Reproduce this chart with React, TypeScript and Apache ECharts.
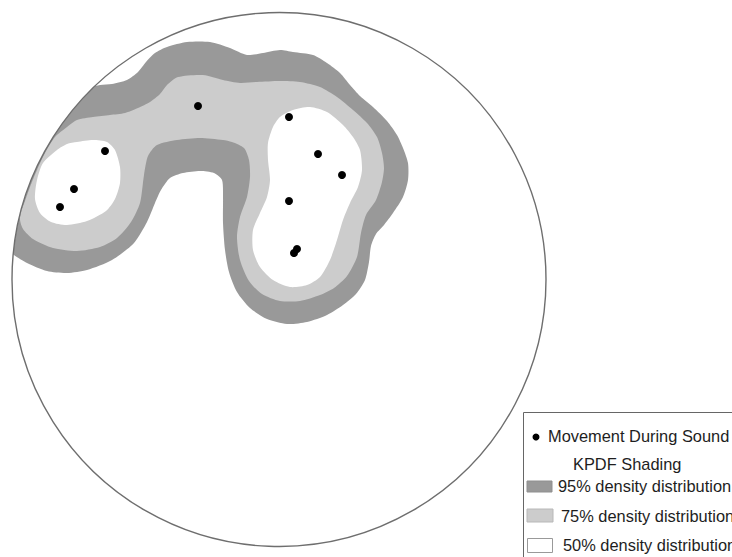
import React, { useEffect, useRef } from "react";
import * as echarts from "echarts";

// Plot units: the stereonet frame, x to the right, y downward
const netCenter = [279, 279.5];
const netRadius = 267;

const movementPoints = [
  [198, 106], [289, 117], [105, 151], [318, 154], [342, 175],
  [74, 189], [60, 207], [289, 201], [294, 253], [297, 249],
];

// 95% density contour (extends past the net at the west; masked by the primitive circle)
const contour95 = [
  [0, 100], [90, 87], [100, 85], [112, 84], [127, 80], [138, 72], [146, 62], [155, 53],
  [167, 47], [187, 42], [210, 42], [230, 48], [247, 55], [263, 53], [280, 50], [293, 52],
  [313, 55], [327, 63], [340, 73], [350, 85], [360, 96], [373, 107], [387, 121], [397, 135],
  [403, 148], [408, 163], [408, 180], [403, 197], [393, 213], [384, 225], [376, 234],
  [371, 246], [369, 262], [365, 280], [356, 294], [343, 305], [327, 315], [307, 322],
  [287, 324], [267, 319], [250, 308], [237, 292], [229, 272], [225, 250], [223, 223],
  [223, 197], [222, 180], [214, 173], [200, 171], [183, 173], [170, 178], [161, 190],
  [155, 203], [147, 222], [134, 243], [112, 260], [87, 270], [67, 273], [47, 271],
  [27, 263], [14, 255], [4, 246], [0, 236],
];

// 75% density contour
const contour75 = [
  [55, 137], [67, 127], [77, 120], [93, 117], [110, 115], [125, 113], [138, 108], [150, 102],
  [160, 94], [167, 85], [178, 77], [203, 75], [223, 80], [240, 83], [257, 82], [280, 81],
  [300, 82], [320, 87], [337, 97], [353, 110], [367, 123], [377, 137], [382, 153], [384, 168],
  [382, 182], [376, 200], [366, 215], [361, 233], [357, 257], [347, 276], [334, 288],
  [320, 295], [300, 301], [280, 301], [262, 294], [249, 281], [240, 260], [237, 237],
  [240, 217], [247, 197], [250, 177], [249, 160], [244, 148], [232, 142], [223, 140],
  [200, 138], [177, 140], [157, 145], [148, 156], [144, 175], [140, 203], [131, 222],
  [117, 238], [100, 247], [77, 251], [53, 248], [33, 239], [23, 229], [20, 220], [21, 212],
  [25, 201], [30, 187], [37, 170], [45, 153],
];

// 50% density contours
const contour50West = [
  [67, 144], [77, 142], [93, 140], [107, 142], [115, 150], [120, 167], [120, 183],
  [115, 199], [106, 211], [87, 221], [67, 225], [51, 222], [40, 213], [35, 199],
  [37, 180], [43, 163], [57, 150],
];
const contour50East = [
  [280, 117], [293, 110], [310, 107], [327, 112], [343, 125], [353, 137], [360, 150],
  [362, 170], [358, 187], [350, 203], [343, 220], [337, 240], [330, 260], [320, 277],
  [307, 285], [290, 287], [273, 280], [260, 267], [253, 250], [253, 230], [260, 213],
  [267, 197], [270, 180], [268, 160], [268, 143], [273, 127],
];

const legendLabels = [
  "Movement During Sound",
  "KPDF Shading",
  "95% density distribution",
  "75% density distribution",
  "50% density distribution",
];

const DARK = "#999999";
const LIGHT = "#cccccc";
const TEXT = "#1e1e1e";
const FONT = '16.4px "Liberation Sans", Arial, sans-serif';

function polygonSeries(name: string, pts: number[][], fill: string, z: number) {
  return {
    type: "custom",
    name,
    z,
    silent: true,
    clip: false,
    coordinateSystem: "cartesian2d",
    data: [netCenter],
    renderItem: (_params: any, api: any) => ({
      type: "polygon",
      shape: { points: pts.map((p) => api.coord(p)), smooth: 0.25 },
      style: { fill, stroke: null },
    }),
  };
}

export default function App() {
  const ref = useRef<HTMLDivElement>(null);

  useEffect(() => {
    if (!ref.current) return;
    const chart = echarts.init(ref.current, null, { renderer: "svg" });

    const legendText = (i: number, x: number, y: number) => ({
      type: "text",
      z: 100,
      silent: true,
      style: { text: legendLabels[i], x, y, font: FONT, fill: TEXT, verticalAlign: "middle", align: "left" },
    });

    const option: any = {
      animation: false,
      backgroundColor: "#ffffff",
      grid: { left: 0, right: 0, top: 0, bottom: 0 },
      xAxis: { type: "value", min: 0, max: 732, show: false },
      yAxis: { type: "value", min: 0, max: 557, inverse: true, show: false },
      series: [
        polygonSeries("95%", contour95, DARK, 1),
        polygonSeries("75%", contour75, LIGHT, 2),
        polygonSeries("50% W", contour50West, "#ffffff", 3),
        polygonSeries("50% E", contour50East, "#ffffff", 3),
        {
          type: "custom",
          name: "net",
          z: 4,
          silent: true,
          clip: false,
          coordinateSystem: "cartesian2d",
          data: [netCenter],
          renderItem: (_params: any, api: any) => {
            const c = api.coord(netCenter);
            const r = api.size([netRadius, 0])[0];
            return {
              type: "group",
              children: [
                {
                  type: "ring",
                  shape: { cx: c[0], cy: c[1], r: 1200, r0: r },
                  style: { fill: "#ffffff", stroke: null },
                },
                {
                  type: "circle",
                  shape: { cx: c[0], cy: c[1], r },
                  style: { fill: "none", stroke: "#6e6e6e", lineWidth: 1.4 },
                },
              ],
            };
          },
        },
        {
          type: "scatter",
          name: "Movement During Sound",
          z: 5,
          symbol: "circle",
          symbolSize: 8,
          itemStyle: { color: "#000000", opacity: 1 },
          data: movementPoints,
          silent: true,
        },
      ],
      graphic: [
        {
          type: "rect",
          z: 100,
          silent: true,
          shape: { x: 523.5, y: 412.5, width: 260, height: 200 },
          style: { fill: "#ffffff", stroke: "#666666", lineWidth: 1 },
        },
        {
          type: "circle",
          z: 101,
          silent: true,
          shape: { cx: 536, cy: 437, r: 3.5 },
          style: { fill: "#000000" },
        },
        legendText(0, 548, 435.5),
        legendText(1, 573, 463.5),
        {
          type: "rect",
          z: 101,
          silent: true,
          shape: { x: 527, y: 481, width: 25, height: 11 },
          style: { fill: DARK, stroke: "#8f8f8f", lineWidth: 1 },
        },
        legendText(2, 558, 485.5),
        {
          type: "rect",
          z: 101,
          silent: true,
          shape: { x: 527, y: 509, width: 26, height: 13 },
          style: { fill: LIGHT, stroke: "#b8b8b8", lineWidth: 1 },
        },
        legendText(3, 561, 515.5),
        {
          type: "rect",
          z: 101,
          silent: true,
          shape: { x: 527.5, y: 538.5, width: 25, height: 14 },
          style: { fill: "#ffffff", stroke: "#999999", lineWidth: 1 },
        },
        legendText(4, 563, 544.5),
      ],
    };

    chart.setOption(option);
    return () => chart.dispose();
  }, []);

  return (
    <div
      ref={ref}
      style={{ position: "fixed", left: 0, top: 0, width: 732, height: 557, background: "#fff" }}
    />
  );
}
